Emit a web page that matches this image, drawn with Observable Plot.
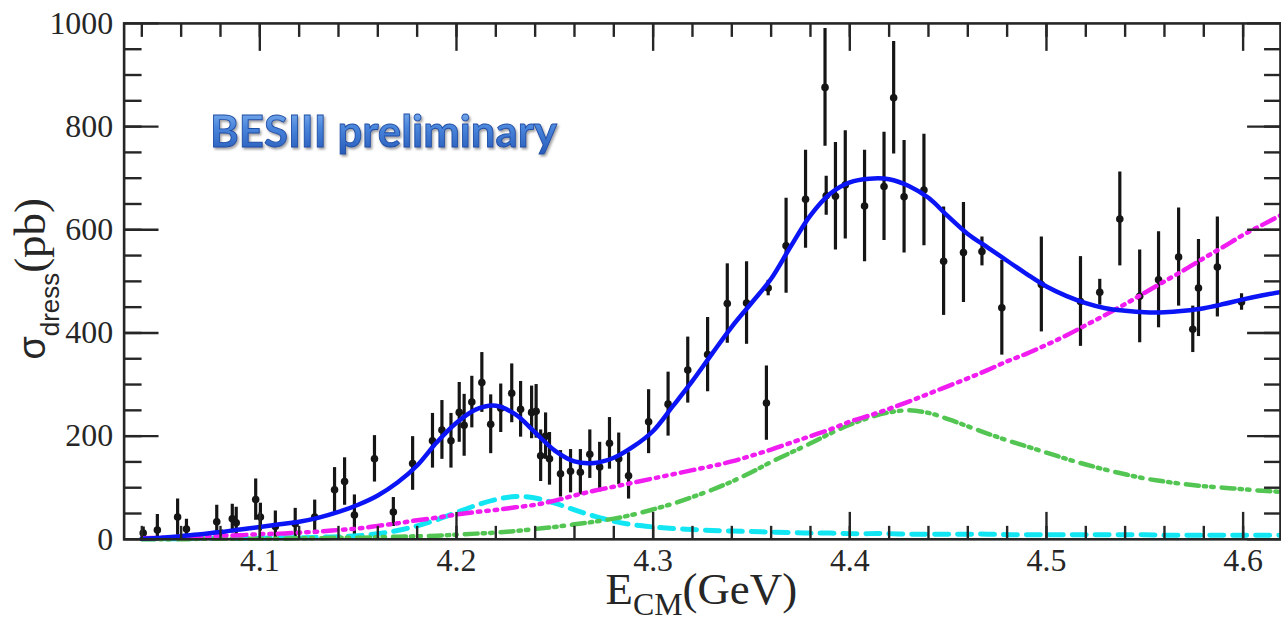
<!DOCTYPE html>
<html>
<head>
<meta charset="utf-8">
<script src="https://cdn.jsdelivr.net/npm/d3@7"></script>
<script src="https://cdn.jsdelivr.net/npm/@observablehq/plot@0.6"></script>
<style>
  html, body { margin: 0; padding: 0; background: #fff; overflow: hidden; }
  #chart { width: 1281px; height: 623px; overflow: hidden; }
</style>
</head>
<body>
<div id="chart"></div>
<script>
// Measured dressed cross section: centre-of-mass energy (GeV), value (pb), uncertainty (pb)
const energy = [4.0407, 4.0479, 4.0582, 4.0627, 4.0781, 4.0806, 4.0860, 4.0880, 4.0979, 4.1003,
  4.1079, 4.1180, 4.1279, 4.1380, 4.1431, 4.1481, 4.1583, 4.1679, 4.1777, 4.1878,
  4.1926, 4.1972, 4.2014, 4.2039, 4.2078, 4.2129, 4.2174, 4.2225, 4.2281, 4.2326,
  4.2382, 4.2405, 4.2428, 4.2453, 4.2473, 4.2529, 4.2580, 4.2630, 4.2678, 4.2728,
  4.2778, 4.2825, 4.2875, 4.2977, 4.3076, 4.3176, 4.3277, 4.3377, 4.3475, 4.3576,
  4.3585, 4.3676, 4.3775, 4.3874, 4.3880, 4.3927, 4.3977, 4.4075, 4.4174, 4.4223,
  4.4276, 4.4377, 4.4477, 4.4578, 4.4672, 4.4773, 4.4974, 4.5173, 4.5271, 4.5373,
  4.5474, 4.5570, 4.5672, 4.5744, 4.5773, 4.5869, 4.5992];
const sigma = [12, 18, 43, 20, 34, 8, 40, 32, 77, 43,
  25, 30, 43, 96, 112, 47, 156, 53, 147, 191,
  212, 191, 246, 221, 266, 304, 223, 254, 283, 252,
  246, 248, 162, 200, 156, 127, 132, 130, 165, 140,
  186, 156, 123, 228, 262, 328, 358, 457, 458, 264,
  487, 569, 659, 876, 666, 665, 687, 646, 684, 856,
  664, 677, 539, 556, 558, 449, 494, 461, 479, 621,
  471, 503, 547, 407, 487, 528, 460];
const sigmaErr = [12, 30, 35, 19, 32, 10, 28, 30, 40, 27,
  30, 30, 33, 43, 46, 39, 45, 28, 52, 53,
  57, 53, 58, 60, 50, 58, 57, 47, 57, 54,
  51, 52, 50, 45, 51, 45, 42, 44, 47, 48,
  50, 50, 45, 62, 62, 64, 72, 77, 80, 72,
  15, 92, 95, 114, 38, 104, 105, 108, 105, 109,
  109, 108, 105, 97, 28, 92, 92, 87, 25, 91,
  90, 93, 95, 45, 94, 97, 16];

// Fit curves sampled on an energy grid (GeV)
const fitEnergy = [4.04, 4.05, 4.06, 4.07, 4.08, 4.09, 4.10, 4.11, 4.12, 4.13,
  4.14, 4.15, 4.16, 4.17, 4.18, 4.19, 4.20, 4.21, 4.22, 4.23,
  4.24, 4.25, 4.26, 4.27, 4.28, 4.29, 4.30, 4.31, 4.32, 4.33,
  4.34, 4.35, 4.36, 4.37, 4.38, 4.39, 4.40, 4.41, 4.42, 4.43,
  4.44, 4.45, 4.46, 4.47, 4.48, 4.49, 4.50, 4.51, 4.52, 4.53,
  4.54, 4.55, 4.56, 4.57, 4.58, 4.59, 4.60, 4.61, 4.62];
const fitTotal = [1, 3, 6, 10, 14, 19, 24, 29, 34, 42,
  53, 67, 85, 110, 143, 188, 226, 252, 259, 242,
  207, 172, 151, 148, 158, 180, 210, 258, 307, 360,
  412, 458, 505, 568, 628, 670, 692, 699, 698, 685,
  662, 626, 592, 566, 540, 514, 490, 472, 458, 448,
  443, 440, 440, 443, 448, 456, 465, 473, 480];
const fitLowPeak = [1, 1, 1, 2, 2, 2, 2, 3, 3, 4,
  5, 7, 11, 17, 26, 38, 52, 66, 77, 83,
  80, 70, 57, 45, 35, 28, 24, 21, 19, 17,
  16, 15, 14, 13, 12, 12, 11, 11, 11, 10,
  10, 10, 10, 10, 9, 9, 9, 9, 9, 9,
  9, 9, 8, 8, 8, 8, 8, 8, 8];
const fitHighPeak = [0, 0, 0, 1, 1, 1, 1, 1, 2, 2,
  3, 3, 4, 5, 6, 7, 9, 11, 13, 16,
  20, 24, 29, 34, 40, 48, 58, 69, 82, 96,
  112, 130, 150, 168, 186, 205, 222, 236, 246, 250,
  245, 233, 219, 205, 192, 180, 168, 156, 145, 135,
  126, 118, 112, 107, 103, 100, 97, 94, 92];
const fitRising = [2, 3, 4, 5, 7, 8, 10, 11, 13, 15,
  18, 21, 26, 31, 37, 42, 48, 53, 57, 62,
  67, 75, 85, 94, 102, 110, 118, 126, 134, 142,
  151, 162, 174, 187, 200, 213, 228, 240, 253, 267,
  282, 297, 312, 328, 345, 360, 377, 395, 415, 435,
  456, 478, 500, 522, 545, 567, 590, 610, 630];

// Axis ticks
const xMajorTicks = [4.1, 4.2, 4.3, 4.4, 4.5, 4.6];
const xMinorTicks = d3.range(4.04, 4.615, 0.02).map(d => +d.toFixed(2));
const yMajorTicks = [0, 200, 400, 600, 800, 1000];
const yMinorTicks = d3.range(50, 1000, 50);

const bannerText = "BESIII preliminary";
const bannerAt = {e: 4.0747, s: 788};

const points = energy.map((e, i) => ({e, s: sigma[i], lo: sigma[i] - sigmaErr[i], hi: sigma[i] + sigmaErr[i]}));
const curve = vals => fitEnergy.map((e, i) => ({e, v: vals[i]}));

const ink = "#262626";
const serif = "'Liberation Serif', 'Times New Roman', serif";
const sans = "'Liberation Sans', Arial, sans-serif";

const tickAxis = (axis, ticks, anchor, size) =>
  axis(ticks, {anchor, tickSize: -size, strokeWidth: 2.4, stroke: ink, tickFormat: () => "", label: null});

const plot = Plot.plot({
  width: 1285,
  height: 623,
  marginLeft: 124,
  marginRight: 1,
  marginTop: 23,
  marginBottom: 82.5,
  x: {domain: [4.031, 4.619]},
  y: {domain: [0, 1000]},
  style: {fontFamily: serif, fontSize: "32px", color: ink, background: "#fff"},
  marks: [
    Plot.ruleX(points, {x: "e", y1: "lo", y2: "hi", stroke: "#151515", strokeWidth: 3.2, clip: true}),
    Plot.dot(points, {x: "e", y: "s", r: 3.8, fill: "#151515", stroke: null, clip: true}),
    Plot.line(curve(fitLowPeak), {x: "e", y: "v", stroke: "#12e6f2", strokeWidth: 5, strokeDasharray: "14,9", curve: "catmull-rom"}),
    Plot.line(curve(fitHighPeak), {x: "e", y: "v", stroke: "#52c552", strokeWidth: 4.5, strokeDasharray: "13,5,2.5,5,2.5,8", curve: "catmull-rom"}),
    Plot.line(curve(fitRising), {x: "e", y: "v", stroke: "#f01cf0", strokeWidth: 4.5, strokeDasharray: "14,6,2.5,6,2.5,6,2.5,6", curve: "catmull-rom"}),
    Plot.line(curve(fitTotal), {x: "e", y: "v", stroke: "#0a14f5", strokeWidth: 4.5, curve: "catmull-rom"}),
    Plot.frame({stroke: ink, strokeWidth: 2.6}),
    tickAxis(Plot.axisX, xMinorTicks, "bottom", 13),
    tickAxis(Plot.axisX, xMajorTicks, "bottom", 27),
    tickAxis(Plot.axisX, xMinorTicks, "top", 13),
    tickAxis(Plot.axisX, xMajorTicks, "top", 27),
    tickAxis(Plot.axisY, yMinorTicks, "left", 18),
    tickAxis(Plot.axisY, yMajorTicks, "left", 35),
    tickAxis(Plot.axisY, yMinorTicks, "right", 17),
    tickAxis(Plot.axisY, yMajorTicks, "right", 34),
    Plot.axisX(xMajorTicks, {anchor: "bottom", tickSize: 0, tickPadding: 9, fontSize: 32, fontFamily: serif, fill: ink, tickFormat: d3.format(".1f"), label: null}),
    Plot.axisY(yMajorTicks, {anchor: "left", tickSize: 0, tickPadding: 11, fontSize: 32, fontFamily: serif, fill: ink, tickFormat: d => String(d), label: null}),
    Plot.text([bannerText], {x: () => bannerAt.e, y: () => bannerAt.s, text: d => d, textAnchor: "start",
      fontFamily: "Lato, 'Open Sans', sans-serif", fontWeight: "bold", fontSize: 44, fill: "#2f6ccc", className: "banner"})
  ]
});

const svg = d3.select(plot);
const defs = svg.insert("defs", ":first-child");
const grad = defs.append("linearGradient").attr("id", "banner-fill").attr("x1", 0).attr("y1", 0).attr("x2", 0).attr("y2", 1);
grad.append("stop").attr("offset", "0%").attr("stop-color", "#8fbdf3");
grad.append("stop").attr("offset", "45%").attr("stop-color", "#4a86dc");
grad.append("stop").attr("offset", "100%").attr("stop-color", "#2558b8");
const shadow = defs.append("filter").attr("id", "banner-shadow").attr("x", "-5%").attr("y", "-20%").attr("width", "110%").attr("height", "150%");
shadow.append("feDropShadow").attr("dx", 1.5).attr("dy", 2).attr("stdDeviation", 1.2).attr("flood-color", "#555").attr("flood-opacity", 0.55);

svg.select("g.banner").selectAll("text")
  .attr("fill", "url(#banner-fill)")
  .attr("stroke", "#1f4fa6")
  .attr("stroke-width", 0.9)
  .attr("filter", "url(#banner-shadow)")
  .attr("textLength", 348)
  .attr("lengthAdjust", "spacingAndGlyphs");

// Axis titles with subscripts
const xs = plot.scale("x").range, ys = plot.scale("y").range;
const xMid = (xs[0] + 1281) / 2 + 1;
const xTitle = svg.append("text")
  .attr("x", xMid).attr("y", ys[0] + 65)
  .attr("text-anchor", "middle").attr("font-family", serif).attr("font-size", 45).attr("fill", ink);
xTitle.append("tspan").text("E");
xTitle.append("tspan").attr("font-size", 32).attr("dy", 11).text("CM");
xTitle.append("tspan").attr("dy", -11).text("(GeV)");

const yTitle = svg.append("text")
  .attr("transform", `translate(45,${(ys[0] + ys[1]) / 2 - 2}) rotate(-90)`)
  .attr("text-anchor", "middle").attr("font-size", 45).attr("fill", ink).attr("font-family", serif);
yTitle.append("tspan").attr("font-family", sans).attr("font-size", 38).text("σ");
yTitle.append("tspan").attr("font-family", sans).attr("font-size", 26).attr("dy", 14).text("dress");
yTitle.append("tspan").attr("dy", -14).text("(pb)");

document.getElementById("chart").appendChild(plot);
</script>
</body>
</html>
